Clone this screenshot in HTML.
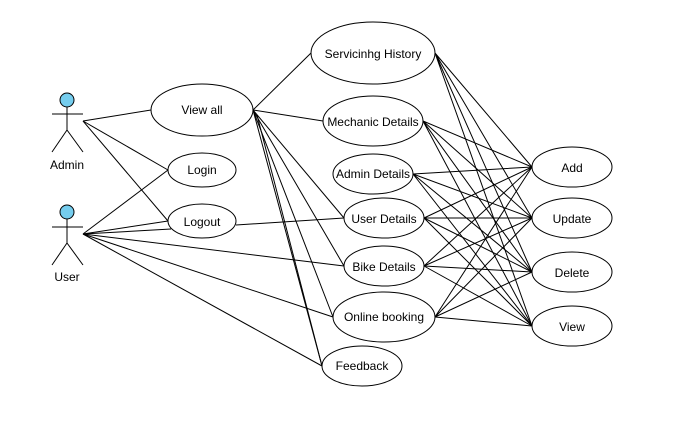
<!DOCTYPE html>
<html><head><style>body{margin:0;background:#fff}svg{display:block}text{font-family:"Liberation Sans",Arial,sans-serif;font-size:12px;fill:#000}</style></head>
<body>
<svg width="675" height="436" viewBox="0 0 675 436" xmlns="http://www.w3.org/2000/svg">
<g stroke="#000" stroke-width="1" fill="none">
<!-- actors -->
<circle cx="67" cy="100" r="7" fill="#75cdee"/>
<line x1="67" y1="107" x2="67" y2="130"/><line x1="52" y1="114" x2="83" y2="114"/>
<line x1="67" y1="130" x2="52" y2="152"/><line x1="67" y1="130" x2="83" y2="152"/>
<circle cx="67" cy="212" r="7" fill="#75cdee"/>
<line x1="67" y1="219" x2="67" y2="243"/><line x1="52" y1="227" x2="83" y2="227"/>
<line x1="67" y1="243" x2="52" y2="265"/><line x1="67" y1="243" x2="83" y2="265"/>
<!-- left lines -->
<line x1="83" y1="121" x2="151" y2="110"/>
<line x1="83" y1="121" x2="168" y2="170"/>
<line x1="83" y1="121" x2="168" y2="221"/>
<line x1="83" y1="234" x2="168" y2="170"/>
<line x1="83" y1="234" x2="168" y2="221"/>
<line x1="83" y1="234" x2="171" y2="229"/>
<line x1="83" y1="234" x2="344" y2="266"/>
<line x1="83" y1="234" x2="333" y2="317"/>
<line x1="83" y1="234" x2="322" y2="366"/>
<line x1="253" y1="110" x2="311" y2="53"/>
<line x1="253" y1="110" x2="323" y2="121"/>
<line x1="253" y1="110" x2="344" y2="218"/>
<line x1="253" y1="110" x2="344" y2="266"/>
<line x1="253" y1="110" x2="333" y2="317"/>
<line x1="253" y1="110" x2="322" y2="366"/>
<line x1="257" y1="115" x2="322" y2="366"/>
<line x1="236" y1="225" x2="344" y2="218"/>
<!-- right lines -->
<g id="r">
<path d="M435 53L532 167M435 53L532 218M435 53L532 272M435 53L532 326"/>
<path d="M423 121L532 167M423 121L532 218M423 121L532 272M423 121L532 326"/>
<path d="M413 174L532 167M413 174L532 218M413 174L532 272M413 174L532 326"/>
<path d="M424 218L532 167M424 218L532 218M424 218L532 272M424 218L532 326"/>
<path d="M424 266L532 167M424 266L532 218M424 266L532 272M424 266L532 326"/>
<path d="M435 317L532 167M435 317L532 218M435 317L532 272M435 317L532 326"/>
</g>
<!-- ellipses -->
<g fill="#fff">
<ellipse cx="202" cy="110" rx="51" ry="26"/>
<ellipse cx="202" cy="170" rx="34" ry="17"/>
<ellipse cx="202" cy="221" rx="34" ry="17"/>
<ellipse cx="373" cy="53" rx="62" ry="31"/>
<ellipse cx="373" cy="121" rx="50" ry="25"/>
<ellipse cx="373" cy="174" rx="40" ry="20"/>
<ellipse cx="384" cy="218" rx="40" ry="20"/>
<ellipse cx="384" cy="266" rx="40" ry="20"/>
<ellipse cx="384" cy="317" rx="51" ry="25"/>
<ellipse cx="362" cy="366" rx="40" ry="20"/>
<ellipse cx="572" cy="167" rx="40" ry="20"/>
<ellipse cx="572" cy="218" rx="40" ry="20"/>
<ellipse cx="572" cy="272" rx="40" ry="20"/>
<ellipse cx="572" cy="326" rx="40" ry="20"/>
</g>
</g>
<g text-anchor="middle">
<text x="67" y="169">Admin</text>
<text x="67" y="281">User</text>
<text x="202" y="114">View all</text>
<text x="202" y="174">Login</text>
<text x="202" y="226">Logout</text>
<text x="373" y="58">Servicinhg History</text>
<text x="373" y="126">Mechanic Details</text>
<text x="373" y="178">Admin Details</text>
<text x="384" y="223">User Details</text>
<text x="384" y="271">Bike Details</text>
<text x="384" y="321">Online booking</text>
<text x="362" y="370">Feedback</text>
<text x="572" y="172">Add</text>
<text x="572" y="223">Update</text>
<text x="572" y="277">Delete</text>
<text x="572" y="331">View</text>
</g>
</svg>
</body></html>
